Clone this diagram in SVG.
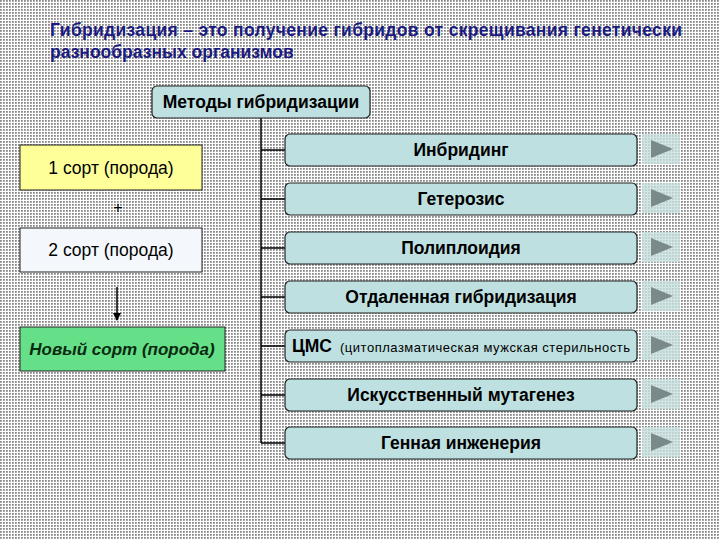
<svg xmlns="http://www.w3.org/2000/svg" width="720" height="540" viewBox="0 0 720 540">
<defs>
<pattern id="dots" width="3" height="3" patternUnits="userSpaceOnUse"><rect width="3" height="3" fill="#fff"/><rect width="1.8" height="1.8" fill="#888"/></pattern>
<marker id="ar" markerWidth="8" markerHeight="8" refX="7" refY="4" orient="auto" markerUnits="userSpaceOnUse"><path d="M0,0 L8,4 L0,8 Z" fill="#000"/></marker>
</defs>
<style>
text{font-family:"Liberation Sans",Arial,sans-serif;}
.m{fill:#bfe0e0;stroke:#222;stroke-width:1.2;}
.mt{font-size:17.5px;font-weight:bold;text-anchor:middle;}
.pl{fill:#c8e0e0;opacity:.8;}
.tri{fill:#7a8a8a;}
.ln{stroke:#000;stroke-width:1.5;fill:none;}
</style>
<rect width="720" height="540" fill="url(#dots)"/>
<g id="title" fill="#1a1a80" font-size="17.5" font-weight="bold">
<text x="50" y="36" textLength="632">Гибридизация – это получение гибридов от скрещивания генетически</text>
<text x="50" y="58">разнообразных организмов</text>
</g>
<g id="connectors">
<path class="ln" d="M261,118 V443"/>
<path class="ln" d="M261,150 H285 M261,199 H285 M261,248 H285 M261,297 H285 M261,346 H285 M261,395 H285 M261,443 H285"/>
<path class="ln" d="M117,287 V320" marker-end="url(#ar)"/>
</g>
<g id="methods"><rect class="m" x="152" y="86" width="218" height="32" rx="5"/><text class="mt" x="261" y="108">Методы гибридизации</text></g>
<g id="s1"><rect x="20" y="145" width="182" height="45" fill="#ffff99" stroke="#222"/><text x="111" y="174" font-size="17.5" text-anchor="middle">1 сорт (порода)</text></g>
<g id="plus"><text x="118" y="213" font-size="16" text-anchor="middle">+</text></g>
<g id="s2"><rect x="20" y="228" width="182" height="44" fill="#f4f8fc" stroke="#222"/><text x="111" y="256" font-size="17.5" text-anchor="middle">2 сорт (порода)</text></g>
<g id="new"><rect x="20" y="327" width="205" height="44" fill="#66e088" stroke="#222"/><text x="122" y="355" font-size="17" font-weight="bold" font-style="italic" text-anchor="middle" fill="#0a2a10">Новый сорт (порода)</text></g>
<g id="m1"><rect class="m" x="285" y="134" width="352" height="32" rx="5"/><text class="mt" x="461" y="156">Инбридинг</text></g>
<g id="m2"><rect class="m" x="285" y="183" width="352" height="32" rx="5"/><text class="mt" x="461" y="205">Гетерозис</text></g>
<g id="m3"><rect class="m" x="285" y="232" width="352" height="32" rx="5"/><text class="mt" x="461" y="254">Полиплоидия</text></g>
<g id="m4"><rect class="m" x="285" y="281" width="352" height="32" rx="5"/><text class="mt" x="461" y="303">Отдаленная гибридизация</text></g>
<g id="m5"><rect class="m" x="285" y="330" width="352" height="32" rx="5"/><text x="292" y="352" font-size="17.5" font-weight="bold">ЦМС</text><text x="340" y="352" font-size="13" textLength="290">(цитоплазматическая мужская стерильность</text></g>
<g id="m6"><rect class="m" x="285" y="379" width="352" height="32" rx="5"/><text class="mt" x="461" y="401">Искусственный мутагенез</text></g>
<g id="m7"><rect class="m" x="285" y="427" width="352" height="32" rx="5"/><text class="mt" x="461" y="449">Генная инженерия</text></g>
<g id="buttons">
<rect class="pl" x="642" y="134" width="38" height="30"/><path class="tri" d="M651,140 L673,149 L651,158Z"/>
<rect class="pl" x="642" y="183" width="38" height="30"/><path class="tri" d="M651,189 L673,198 L651,207Z"/>
<rect class="pl" x="642" y="232" width="38" height="30"/><path class="tri" d="M651,238 L673,247 L651,256Z"/>
<rect class="pl" x="642" y="281" width="38" height="30"/><path class="tri" d="M651,287 L673,296 L651,305Z"/>
<rect class="pl" x="642" y="330" width="38" height="30"/><path class="tri" d="M651,336 L673,345 L651,354Z"/>
<rect class="pl" x="642" y="379" width="38" height="30"/><path class="tri" d="M651,385 L673,394 L651,403Z"/>
<rect class="pl" x="642" y="427" width="38" height="30"/><path class="tri" d="M651,433 L673,442 L651,451Z"/>
</g>
</svg>
